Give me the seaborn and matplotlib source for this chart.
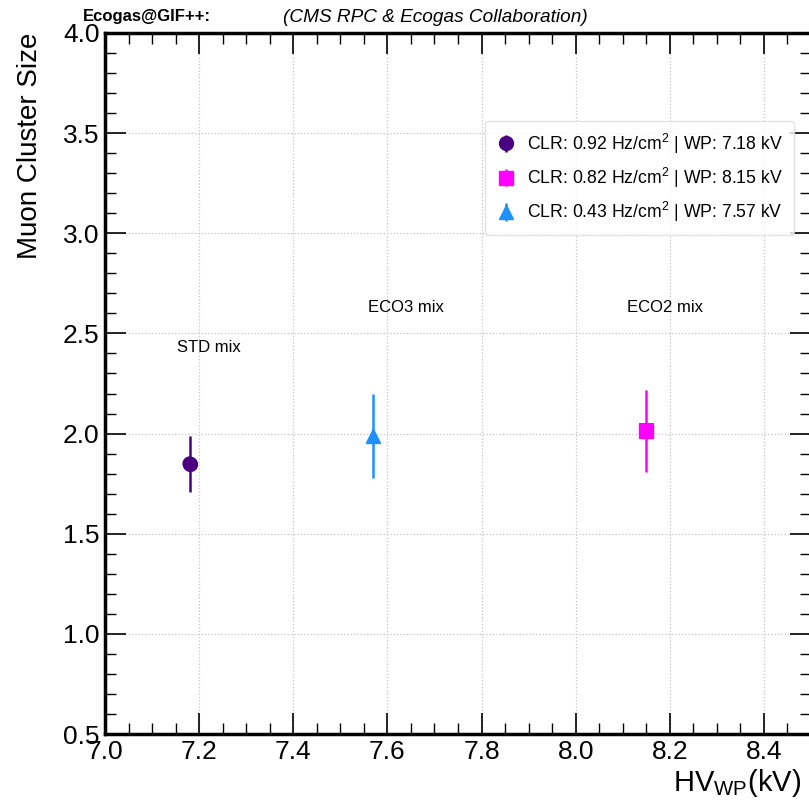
import matplotlib
matplotlib.use("Agg")
import matplotlib.pyplot as plt
import seaborn as sns
import pandas as pd
from matplotlib.ticker import MultipleLocator

# Data
labels = ["CLR: 0.92 Hz/cm$^2$ | WP: 7.18 kV",
          "CLR: 0.82 Hz/cm$^2$ | WP: 8.15 kV",
          "CLR: 0.43 Hz/cm$^2$ | WP: 7.57 kV"]
hv_wp = [7.18, 8.15, 7.57]
cluster_size = [1.85, 2.015, 1.99]
cluster_err = [0.14, 0.205, 0.21]
mix_names = ["STD mix", "ECO2 mix", "ECO3 mix"]
mix_label_x = [7.22, 8.19, 7.64]
mix_label_y = [2.43, 2.63, 2.63]
colors = ["#4B0082", "#FF00FF", "#1E90FF"]
markers = ["o", "s", "^"]

df = pd.DataFrame({"hv": hv_wp, "cs": cluster_size, "err": cluster_err, "label": labels})

sns.set_theme(style="white")
plt.rcParams['font.family'] = ['Liberation Sans', 'DejaVu Sans']
plt.rcParams['mathtext.fontset'] = 'custom'
plt.rcParams['mathtext.rm'] = 'Liberation Sans'
plt.rcParams['text.color'] = 'black'
plt.rcParams['axes.labelcolor'] = 'black'
plt.rcParams['xtick.color'] = 'black'
plt.rcParams['ytick.color'] = 'black'

fig = plt.figure(figsize=(8.09, 8.0), dpi=100)
ax = fig.add_axes([105/809, 1 - 734/800, (811-105)/809, (734-33)/800])

handles = []
for i in range(len(df)):
    h = ax.errorbar(df.hv[i], df.cs[i], yerr=df.err[i], fmt=markers[i], color=colors[i],
                    ms=10, elinewidth=1.8, capsize=0, label=df.label[i], zorder=3)
    handles.append(h)

sns.scatterplot(data=df, x="hv", y="cs", hue="label", style="label",
                palette=colors, markers=markers, s=110, edgecolor="none",
                legend=False, ax=ax, zorder=4)

for n, x, y in zip(mix_names, mix_label_x, mix_label_y):
    ax.text(x, y, n, ha="center", va="center", fontsize=12, color="black")

ax.set_xlim(7.0, 8.5)
ax.set_ylim(0.5, 4.0)
ax.set_xticks([7.0, 7.2, 7.4, 7.6, 7.8, 8.0, 8.2, 8.4])
ax.xaxis.set_minor_locator(MultipleLocator(0.05))
ax.yaxis.set_major_locator(MultipleLocator(0.5))
ax.yaxis.set_minor_locator(MultipleLocator(0.1))
ax.tick_params(which="both", direction="in", top=True, right=True, bottom=True, left=True,
               colors="black", labelcolor="black")
ax.tick_params(which="major", length=15, width=1.2, labelsize=19, pad=4)
ax.tick_params(which="minor", length=8, width=1.0)
for s in ax.spines.values():
    s.set_linewidth(2.5)
    s.set_color("black")
ax.grid(True, which="major", linestyle=":", color="#c4c4c4", linewidth=0.9)

ax.set_xlabel("")
ax.set_ylabel("Muon Cluster Size", fontsize=20, loc="top", labelpad=14, color="black")
fig.text(801/809, 1 - 783/800, "HV$_{\\mathrm{WP}}$(kV)", fontsize=21, ha="right", va="center")

leg = ax.legend(handles=handles, labels=labels, loc="upper left",
                bbox_to_anchor=((476-105)/706, 1 - (112-33)/701),
                fontsize=12.7, frameon=True, handletextpad=0.6, borderpad=0.6,
                labelspacing=0.58, handlelength=1.2)
leg.get_frame().set_edgecolor("#dddddd")
leg.get_frame().set_linewidth(1.0)
for t in leg.get_texts():
    t.set_color("black")

fig.text(83/809, 1 - 17/800, "Ecogas@GIF++:", fontsize=12, fontweight="bold", va="center")
fig.text(283/809, 1 - 17/800, "(CMS RPC & Ecogas Collaboration)", fontsize=13.7, style="italic", va="center")

fig.savefig("out.png", dpi=100)
